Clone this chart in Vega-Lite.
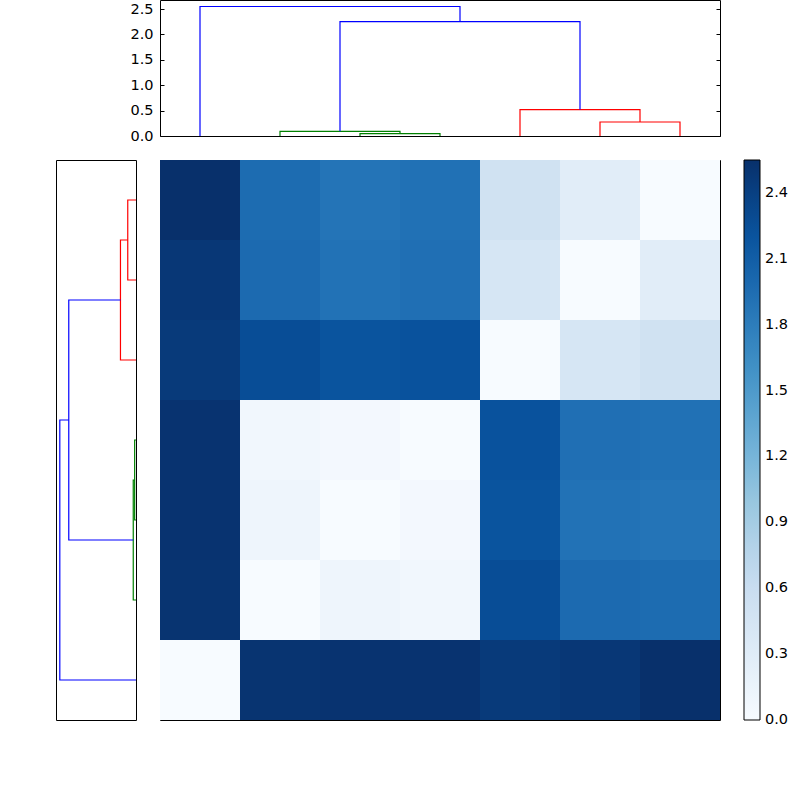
{
  "$schema": "https://vega.github.io/schema/vega-lite/v6.json",
  "background": "white",
  "padding": {"left": 55, "top": -1, "right": 0, "bottom": 0},
  "config": {
    "font": "DejaVu Sans",
    "view": {"stroke": "black", "strokeWidth": 1},
    "axis": {"labelFont": "DejaVu Sans", "labelFontSize": 14.5, "labelColor": "black", "tickColor": "black", "domain": false, "grid": false, "title": null}
  },
  "datasets": {
    "links": [
      {"link": 1, "grp": "g", "ord": 1, "pos": 25, "h": 0},
      {"link": 1, "grp": "g", "ord": 2, "pos": 25, "h": 0.045},
      {"link": 1, "grp": "g", "ord": 3, "pos": 35, "h": 0.045},
      {"link": 1, "grp": "g", "ord": 4, "pos": 35, "h": 0},
      {"link": 2, "grp": "g", "ord": 1, "pos": 15, "h": 0},
      {"link": 2, "grp": "g", "ord": 2, "pos": 15, "h": 0.092},
      {"link": 2, "grp": "g", "ord": 3, "pos": 30, "h": 0.092},
      {"link": 2, "grp": "g", "ord": 4, "pos": 30, "h": 0.045},
      {"link": 3, "grp": "r", "ord": 1, "pos": 55, "h": 0},
      {"link": 3, "grp": "r", "ord": 2, "pos": 55, "h": 0.276},
      {"link": 3, "grp": "r", "ord": 3, "pos": 65, "h": 0.276},
      {"link": 3, "grp": "r", "ord": 4, "pos": 65, "h": 0},
      {"link": 4, "grp": "r", "ord": 1, "pos": 45, "h": 0},
      {"link": 4, "grp": "r", "ord": 2, "pos": 45, "h": 0.52},
      {"link": 4, "grp": "r", "ord": 3, "pos": 60, "h": 0.52},
      {"link": 4, "grp": "r", "ord": 4, "pos": 60, "h": 0.276},
      {"link": 5, "grp": "b", "ord": 1, "pos": 22.5, "h": 0.092},
      {"link": 5, "grp": "b", "ord": 2, "pos": 22.5, "h": 2.25},
      {"link": 5, "grp": "b", "ord": 3, "pos": 52.5, "h": 2.25},
      {"link": 5, "grp": "b", "ord": 4, "pos": 52.5, "h": 0.52},
      {"link": 6, "grp": "b", "ord": 1, "pos": 5, "h": 0},
      {"link": 6, "grp": "b", "ord": 2, "pos": 5, "h": 2.55},
      {"link": 6, "grp": "b", "ord": 3, "pos": 37.5, "h": 2.55},
      {"link": 6, "grp": "b", "ord": 4, "pos": 37.5, "h": 2.25}
    ],
    "dist": [
      {"row": "A", "col": "A", "v": 0}, {"row": "A", "col": "B", "v": 2.51}, {"row": "A", "col": "C", "v": 2.52}, {"row": "A", "col": "D", "v": 2.52}, {"row": "A", "col": "E", "v": 2.45}, {"row": "A", "col": "F", "v": 2.48}, {"row": "A", "col": "G", "v": 2.55},
      {"row": "B", "col": "A", "v": 2.51}, {"row": "B", "col": "B", "v": 0}, {"row": "B", "col": "C", "v": 0.12}, {"row": "B", "col": "D", "v": 0.08}, {"row": "B", "col": "E", "v": 2.27}, {"row": "B", "col": "F", "v": 1.98}, {"row": "B", "col": "G", "v": 1.96},
      {"row": "C", "col": "A", "v": 2.52}, {"row": "C", "col": "B", "v": 0.12}, {"row": "C", "col": "C", "v": 0}, {"row": "C", "col": "D", "v": 0.05}, {"row": "C", "col": "E", "v": 2.2}, {"row": "C", "col": "F", "v": 1.9}, {"row": "C", "col": "G", "v": 1.88},
      {"row": "D", "col": "A", "v": 2.52}, {"row": "D", "col": "B", "v": 0.08}, {"row": "D", "col": "C", "v": 0.05}, {"row": "D", "col": "D", "v": 0}, {"row": "D", "col": "E", "v": 2.22}, {"row": "D", "col": "F", "v": 1.93}, {"row": "D", "col": "G", "v": 1.91},
      {"row": "E", "col": "A", "v": 2.45}, {"row": "E", "col": "B", "v": 2.27}, {"row": "E", "col": "C", "v": 2.2}, {"row": "E", "col": "D", "v": 2.22}, {"row": "E", "col": "E", "v": 0}, {"row": "E", "col": "F", "v": 0.42}, {"row": "E", "col": "G", "v": 0.5},
      {"row": "F", "col": "A", "v": 2.48}, {"row": "F", "col": "B", "v": 1.98}, {"row": "F", "col": "C", "v": 1.9}, {"row": "F", "col": "D", "v": 1.93}, {"row": "F", "col": "E", "v": 0.42}, {"row": "F", "col": "F", "v": 0}, {"row": "F", "col": "G", "v": 0.28},
      {"row": "G", "col": "A", "v": 2.55}, {"row": "G", "col": "B", "v": 1.96}, {"row": "G", "col": "C", "v": 1.88}, {"row": "G", "col": "D", "v": 1.91}, {"row": "G", "col": "E", "v": 0.5}, {"row": "G", "col": "F", "v": 0.28}, {"row": "G", "col": "G", "v": 0}
    ]
  },
  "columns": 2,
  "spacing": 24,
  "bounds": "flush",
  "resolve": {"scale": {"color": "independent"}, "legend": {"color": "independent"}},
  "concat": [
    {
      "width": 80, "height": 136,
      "data": {"values": []},
      "mark": "point",
      "view": {"stroke": null}
    },
    {
      "width": 560, "height": 136,
      "data": {"name": "links"},
      "layer": [
        {
          "mark": {"type": "line", "strokeWidth": 1.2},
          "encoding": {
            "x": {"field": "pos", "type": "quantitative", "scale": {"domain": [0, 70], "nice": false, "zero": false}, "axis": null},
            "y": {"field": "h", "type": "quantitative", "scale": {"domain": [0, 2.6775], "nice": false}, "axis": {"orient": "left", "values": [0, 0.5, 1, 1.5, 2, 2.5], "format": ".1f", "tickSize": -4, "labelPadding": 11}},
            "color": {"field": "grp", "type": "nominal", "scale": {"domain": ["b", "g", "r"], "range": ["#0000ff", "#008000", "#ff0000"]}, "legend": null},
            "detail": {"field": "link", "type": "nominal"},
            "order": {"field": "ord", "type": "quantitative"}
          }
        },
        {
          "mark": {"type": "point", "opacity": 0},
          "encoding": {
            "x": {"field": "pos", "type": "quantitative", "scale": {"domain": [0, 70], "nice": false, "zero": false}, "axis": null},
            "y": {"field": "h", "type": "quantitative", "scale": {"domain": [0, 2.6775], "nice": false}, "axis": {"orient": "right", "values": [0, 0.5, 1, 1.5, 2, 2.5], "labels": false, "tickSize": -4}}
          }
        }
      ],
      "resolve": {"scale": {"y": "independent"}, "axis": {"y": "independent"}}
    },
    {
      "width": 80, "height": 560,
      "data": {"name": "links"},
      "mark": {"type": "line", "strokeWidth": 1.2},
      "encoding": {
        "x": {"field": "h", "type": "quantitative", "scale": {"domain": [0, 2.6775], "nice": false, "reverse": true}, "axis": null},
        "y": {"field": "pos", "type": "quantitative", "scale": {"domain": [0, 70], "nice": false, "zero": false}, "axis": null},
        "color": {"field": "grp", "type": "nominal", "scale": {"domain": ["b", "g", "r"], "range": ["#0000ff", "#008000", "#ff0000"]}, "legend": null},
        "detail": {"field": "link", "type": "nominal"},
        "order": {"field": "ord", "type": "quantitative"}
      }
    },
    {
      "width": 560, "height": 560,
      "data": {"name": "dist"},
      "mark": {"type": "rect"},
      "encoding": {
        "x": {"field": "col", "type": "nominal", "sort": ["A", "B", "C", "D", "E", "F", "G"], "scale": {"paddingInner": 0, "paddingOuter": 0}, "axis": null},
        "y": {"field": "row", "type": "nominal", "sort": ["G", "F", "E", "D", "C", "B", "A"], "scale": {"paddingInner": 0, "paddingOuter": 0}, "axis": null},
        "color": {
          "field": "v", "type": "quantitative",
          "scale": {
            "domain": [0, 0.31875, 0.6375, 0.95625, 1.275, 1.59375, 1.9125, 2.23125, 2.55],
            "range": ["#f7fbff", "#deebf7", "#c6dbef", "#9ecae1", "#6baed6", "#4292c6", "#2171b5", "#08519c", "#08306b"],
            "interpolate": "rgb"
          },
          "legend": {
            "title": null, "orient": "right", "offset": 24, "padding": 0, "direction": "vertical",
            "gradientLength": 560, "gradientThickness": 16, "gradientStrokeColor": "black", "gradientStrokeWidth": 1,
            "values": [0, 0.3, 0.6, 0.9, 1.2, 1.5, 1.8, 2.1, 2.4], "format": ".1f",
            "labelFont": "DejaVu Sans", "labelFontSize": 14.5, "labelColor": "black", "labelOffset": 5, "labelOverlap": false, "labelBaseline": "middle",
            "encode": {"labels": {"update": {"baseline": {"value": "middle"}}}}
          }
        }
      }
    }
  ]
}
